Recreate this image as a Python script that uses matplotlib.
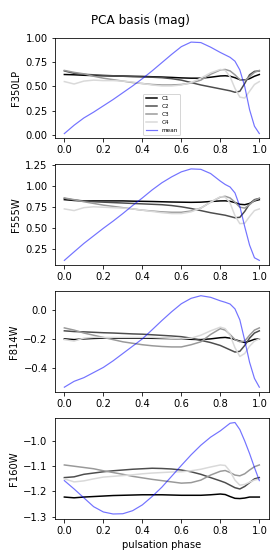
import matplotlib
matplotlib.use("Agg")
import matplotlib.pyplot as plt

phase = [0, .05, .1, .15, .2, .25, .3, .35, .4, .45, .5, .55, .6, .65, .7, .75,
         .8, .825, .85, .875, .9, .925, .95, .975, 1.0]

filters = ["F350LP", "F555W", "F814W", "F160W"]

# F350LP
f350_c1 = [0.623, 0.62, 0.615, 0.612, 0.61, 0.608, 0.607, 0.605, 0.603, 0.600, 0.597, 0.593, 0.588,
           0.585, 0.585, 0.595, 0.608, 0.61, 0.605, 0.59, 0.57, 0.565, 0.58, 0.605, 0.623]
f350_c2 = [0.66, 0.635, 0.625, 0.62, 0.615, 0.61, 0.605, 0.60, 0.598, 0.595, 0.59, 0.58, 0.565,
           0.54, 0.515, 0.495, 0.475, 0.465, 0.455, 0.44, 0.45, 0.53, 0.62, 0.655, 0.66]
f350_c3 = [0.665, 0.645, 0.63, 0.605, 0.585, 0.57, 0.555, 0.54, 0.53, 0.52, 0.515, 0.515, 0.52,
           0.535, 0.565, 0.625, 0.67, 0.675, 0.66, 0.62, 0.57, 0.56, 0.6, 0.645, 0.665]
f350_c4 = [0.55, 0.525, 0.555, 0.565, 0.56, 0.56, 0.555, 0.545, 0.53, 0.515, 0.505, 0.505, 0.515,
           0.54, 0.585, 0.64, 0.675, 0.665, 0.6, 0.48, 0.39, 0.38, 0.45, 0.52, 0.55]
f350_mean = [0.014, 0.10, 0.175, 0.235, 0.30, 0.365, 0.435, 0.505, 0.58, 0.66, 0.745, 0.83, 0.91,
             0.957, 0.952, 0.905, 0.85, 0.825, 0.80, 0.76, 0.67, 0.50, 0.26, 0.09, 0.014]

# F555W
f555_c1 = [0.84, 0.83, 0.825, 0.825, 0.825, 0.825, 0.825, 0.822, 0.82, 0.818, 0.815, 0.812, 0.81,
           0.808, 0.81, 0.818, 0.825, 0.826, 0.82, 0.805, 0.785, 0.78, 0.795, 0.825, 0.84]
f555_c2 = [0.855, 0.835, 0.825, 0.815, 0.81, 0.805, 0.8, 0.795, 0.79, 0.785, 0.78, 0.77, 0.755,
           0.735, 0.71, 0.685, 0.665, 0.655, 0.64, 0.625, 0.63, 0.7, 0.79, 0.84, 0.855]
f555_c3 = [0.86, 0.84, 0.815, 0.795, 0.775, 0.76, 0.745, 0.73, 0.715, 0.705, 0.695, 0.69, 0.69,
           0.705, 0.74, 0.81, 0.87, 0.88, 0.86, 0.81, 0.75, 0.74, 0.78, 0.83, 0.855]
f555_c4 = [0.73, 0.71, 0.745, 0.755, 0.75, 0.745, 0.74, 0.73, 0.715, 0.7, 0.685, 0.675, 0.675,
           0.695, 0.74, 0.81, 0.875, 0.87, 0.8, 0.65, 0.555, 0.56, 0.64, 0.71, 0.73]
f555_mean = [0.119, 0.22, 0.32, 0.41, 0.50, 0.585, 0.675, 0.77, 0.86, 0.955, 1.04, 1.11, 1.17,
             1.205, 1.20, 1.15, 1.06, 1.02, 0.99, 0.92, 0.76, 0.52, 0.30, 0.15, 0.119]

# F814W
f814_c1 = [-0.2, -0.205, -0.2, -0.197, -0.195, -0.195, -0.195, -0.195, -0.195, -0.196, -0.197,
           -0.198, -0.2, -0.203, -0.205, -0.2, -0.192, -0.19, -0.195, -0.205, -0.215, -0.225,
           -0.215, -0.203, -0.2]
f814_c2 = [-0.145, -0.15, -0.152, -0.155, -0.158, -0.16, -0.163, -0.166, -0.168, -0.172, -0.176,
           -0.18, -0.185, -0.195, -0.21, -0.225, -0.245, -0.26, -0.275, -0.29, -0.285, -0.245,
           -0.195, -0.16, -0.145]
f814_c3 = [-0.125, -0.14, -0.16, -0.175, -0.19, -0.205, -0.22, -0.23, -0.24, -0.247, -0.252,
           -0.255, -0.255, -0.24, -0.22, -0.17, -0.13, -0.14, -0.17, -0.205, -0.22, -0.215,
           -0.175, -0.14, -0.125]
f814_c4 = [-0.205, -0.215, -0.195, -0.19, -0.19, -0.19, -0.19, -0.19, -0.19, -0.19, -0.193,
           -0.196, -0.2, -0.195, -0.175, -0.145, -0.12, -0.13, -0.175, -0.26, -0.32, -0.3,
           -0.25, -0.215, -0.2]
f814_mean = [-0.53, -0.49, -0.465, -0.43, -0.395, -0.35, -0.30, -0.25, -0.20, -0.138, -0.075,
             -0.015, 0.04, 0.077, 0.095, 0.084, 0.06, 0.05, 0.038, 0.005, -0.07, -0.21, -0.36,
             -0.47, -0.53]

# F160W
f160_c1 = [-1.222, -1.225, -1.222, -1.22, -1.218, -1.216, -1.215, -1.214, -1.213, -1.213, -1.213,
           -1.214, -1.215, -1.215, -1.215, -1.213, -1.21, -1.212, -1.22, -1.227, -1.228, -1.226,
           -1.222, -1.222, -1.222]
f160_c2 = [-1.145, -1.142, -1.132, -1.127, -1.122, -1.118, -1.115, -1.112, -1.11, -1.108, -1.109,
           -1.111, -1.115, -1.122, -1.132, -1.145, -1.158, -1.165, -1.175, -1.185, -1.19, -1.18,
           -1.165, -1.15, -1.145]
f160_c3 = [-1.095, -1.1, -1.105, -1.11, -1.118, -1.125, -1.132, -1.14, -1.146, -1.152, -1.157,
           -1.162, -1.167, -1.165, -1.155, -1.135, -1.12, -1.117, -1.125, -1.135, -1.138, -1.13,
           -1.115, -1.102, -1.095]
f160_c4 = [-1.15, -1.162, -1.158, -1.15, -1.143, -1.14, -1.137, -1.134, -1.13, -1.127, -1.125,
           -1.123, -1.122, -1.118, -1.112, -1.103, -1.095, -1.097, -1.12, -1.155, -1.175, -1.172,
           -1.163, -1.155, -1.15]
f160_mean = [-1.157, -1.19, -1.225, -1.26, -1.281, -1.289, -1.288, -1.276, -1.253, -1.22, -1.183,
             -1.14, -1.097, -1.055, -1.017, -0.985, -0.96, -0.945, -0.93, -0.927, -0.955, -1.0,
             -1.05, -1.105, -1.157]

panels = [
    (f350_c1, f350_c2, f350_c3, f350_c4, f350_mean),
    (f555_c1, f555_c2, f555_c3, f555_c4, f555_mean),
    (f814_c1, f814_c2, f814_c3, f814_c4, f814_mean),
    (f160_c1, f160_c2, f160_c3, f160_c4, f160_mean),
]

labels = ["C1", "C2", "C3", "C4", "mean"]
colors = ["black", "0.3", "0.6", "0.85"]

DPI = 72
fig, axes = plt.subplots(4, 1, figsize=(280 / DPI, 560 / DPI), dpi=DPI)
fig.subplots_adjust(left=0.195, right=0.961, top=0.933, bottom=0.074, hspace=0.26)

for ax, name, series in zip(axes, filters, panels):
    for s, lab, col in zip(series[:4], labels[:4], colors):
        ax.plot(phase, s, color=col, lw=1.5, label=lab)
    ax.plot(phase, series[4], color="blue", alpha=0.55, lw=1.2, label="mean")
    ax.set_ylabel(name)

axes[0].legend(loc="lower center", fontsize="xx-small")
axes[-1].set_xlabel("pulsation phase")
fig.suptitle("PCA basis (mag)", y=0.975)

fig.savefig("out.png", dpi=DPI)
